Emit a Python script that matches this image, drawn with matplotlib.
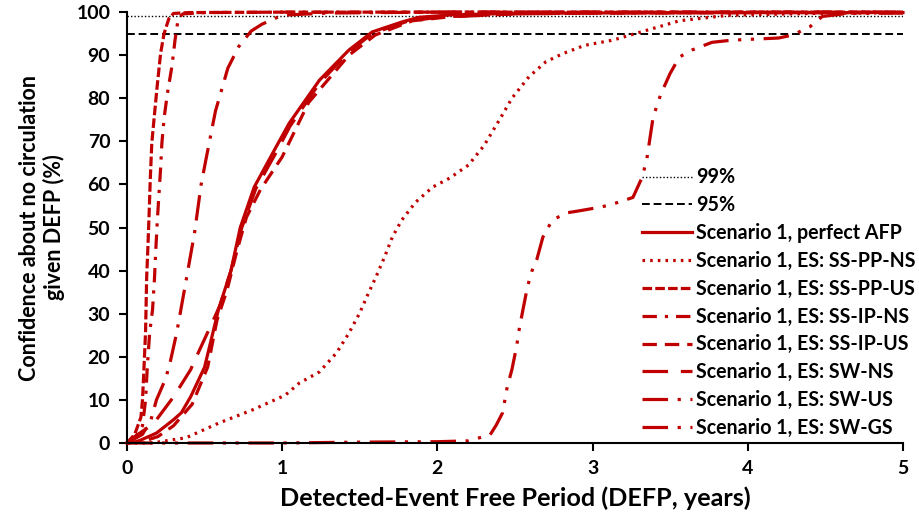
import matplotlib
matplotlib.use("Agg")
import matplotlib.pyplot as plt

# curves (x in years, y in %)
afp_x = [0, 0.05, 0.09, 0.19, 0.3, 0.35, 0.41, 0.5, 0.59, 0.67, 0.73, 0.82, 0.95, 1.045,
         1.24, 1.43, 1.58, 1.77, 1.88, 2.1, 2.5, 3, 4, 5]
afp_y = [0, 0.2, 0.7, 2.3, 5.4, 7, 10.7, 17.6, 31, 40, 50, 59.4, 68, 74.2,
         84.2, 91.2, 95.4, 97.7, 98.8, 99.4, 99.7, 99.8, 99.9, 99.9]

pp_ns_x = [0, 0.16, 0.38, 0.59, 0.81, 1.02, 1.11, 1.24, 1.35, 1.43, 1.5, 1.55, 1.61, 1.66,
           1.71, 1.77, 1.86, 1.97, 2.08, 2.2, 2.3, 2.4, 2.48, 2.59, 2.7, 2.81, 2.95, 3.13,
           3.35, 3.56, 3.88, 4.42, 5]
pp_ns_y = [0, 0, 1.2, 4.6, 7.7, 11.1, 13.9, 16.5, 20.9, 25.5, 30.2, 34.3, 39, 43.2,
           47.8, 51.7, 55.9, 59.4, 61.5, 64.5, 69, 75, 80, 85, 88.5, 90.4, 92.3, 93.5,
           95.8, 98, 99.3, 99.7, 99.9]

pp_us_x = [0, 0.05, 0.09, 0.1, 0.11, 0.12, 0.127, 0.135, 0.142, 0.15, 0.16, 0.174, 0.194,
           0.217, 0.239, 0.27, 0.3, 0.4, 1, 5]
pp_us_y = [0, 2, 6, 10, 17.6, 26, 38.5, 45.5, 52.4, 61, 69.6, 75, 82.6,
           90.5, 95, 98.5, 99.7, 99.9, 100, 100]

ip_ns_x = [0, 0.06, 0.1, 0.12, 0.131, 0.146, 0.165, 0.177, 0.186, 0.197, 0.216, 0.225,
           0.24, 0.26, 0.29, 0.31, 0.33, 0.36, 0.5, 1, 5]
ip_ns_y = [0, 1.5, 4, 10, 17.6, 25.5, 31, 38, 45, 52.5, 63.3, 69.6,
           75.6, 81, 87.5, 93.6, 98.5, 99.6, 99.9, 100, 100]

ip_us_x = [0, 0.1, 0.2, 0.3, 0.42, 0.52, 0.58, 0.645, 0.71, 0.77, 0.86, 1.0, 1.17, 1.43,
           1.6, 1.84, 2.1, 2.5, 3, 4, 5]
ip_us_y = [0, 0.3, 1.5, 4, 9, 17.6, 28.5, 35.5, 44.8, 52.4, 58.8, 66.4, 79, 90,
           94.7, 98, 99, 99.6, 99.8, 99.9, 99.9]

sw_ns_x = [0, 0.05, 0.14, 0.19, 0.3, 0.41, 0.46, 0.55, 0.6, 0.67, 0.74, 0.83, 0.97, 1.05,
           1.24, 1.43, 1.58, 1.8, 2.0, 2.5, 3, 4, 5]
sw_ns_y = [0, 1.5, 3.7, 5.4, 10.7, 17, 21, 28, 32, 40, 50, 59, 68, 73.5,
           83.5, 90.8, 95, 97.8, 98.8, 99.6, 99.8, 99.9, 99.9]

sw_us_x = [0, 0.1, 0.155, 0.19, 0.25, 0.28, 0.32, 0.37, 0.435, 0.478, 0.51, 0.57, 0.65,
           0.72, 0.8, 0.87, 1.0, 1.3, 2, 5]
sw_us_y = [0, 2, 5.4, 10, 15, 19, 25.5, 35.5, 48.7, 60, 66, 77, 87,
           92, 95.6, 97.2, 99.3, 99.8, 100, 100]

sw_gs_x = [0, 0.3, 1.0, 1.5, 2.0, 2.2, 2.34, 2.38, 2.42, 2.45, 2.48, 2.51, 2.53, 2.56,
           2.58, 2.61, 2.64, 2.68, 2.74, 2.83, 2.9, 3.06, 3.17, 3.26, 3.32, 3.35, 3.39,
           3.44, 3.5, 3.56, 3.64, 3.77, 3.9, 4.2, 4.29, 4.4, 4.48, 4.64, 5]
sw_gs_y = [0, 0, 0, 0.2, 0.3, 0.5, 1.9, 4.2, 7, 13, 17, 22.3, 27, 32.5,
           36.2, 40, 42.5, 47.8, 51.7, 53.4, 53.8, 54.8, 55.9, 57, 61.7, 66, 75.6,
           81, 85.8, 89.6, 91.2, 93, 93.5, 94, 94.7, 96.6, 99, 99.7, 99.8]

RED = "#C00000"
FONT = "Lato"

plt.rcParams["font.family"] = [FONT, "DejaVu Sans"]

fig = plt.figure(figsize=(9.2, 5.28), dpi=100)
ax = fig.add_axes([0.138, 0.161, 0.8435, 0.816])

ax.plot([0, 5], [99, 99], color="black", lw=1.0, ls=(0, (1, 1.5)), label="99%")
ax.plot([0, 5], [95, 95], color="black", lw=1.4, ls=(0, (4, 2)), label="95%")

lw = 2.3
series = [
    (afp_x, afp_y, "-", "Scenario 1, perfect AFP"),
    (pp_ns_x, pp_ns_y, (0, (0.8, 1.6)), "Scenario 1, ES: SS-PP-NS"),
    (pp_us_x, pp_us_y, (0, (3, 1)), "Scenario 1, ES: SS-PP-US"),
    (ip_ns_x, ip_ns_y, (0, (4.5, 2.5, 1, 2.5)), "Scenario 1, ES: SS-IP-NS"),
    (ip_us_x, ip_us_y, (0, (4.5, 2.5)), "Scenario 1, ES: SS-IP-US"),
    (sw_ns_x, sw_ns_y, (0, (8, 4)), "Scenario 1, ES: SW-NS"),
    (sw_us_x, sw_us_y, (0, (8, 3, 1, 3)), "Scenario 1, ES: SW-US"),
    (sw_gs_x, sw_gs_y, (0, (8, 3, 1, 3, 1, 3)), "Scenario 1, ES: SW-GS"),
]
for xs, ys, style, name in series:
    ax.plot(xs, ys, color=RED, lw=lw, ls=style, label=name, clip_on=False)

ax.set_xlim(0, 5)
ax.set_ylim(0, 100)
ax.set_xticks(range(0, 6))
ax.set_yticks(range(0, 101, 10))

for side in ["top", "right"]:
    ax.spines[side].set_visible(False)
for side in ["left", "bottom"]:
    ax.spines[side].set_linewidth(1.5)

ax.tick_params(direction="out", length=6, width=1.5, labelsize=14, pad=6)
for lab in ax.get_xticklabels() + ax.get_yticklabels():
    lab.set_fontweight("bold")

ax.set_xlabel("Detected-Event Free Period (DEFP, years)", fontsize=18.2, fontweight="bold", labelpad=7)
ax.set_ylabel("Confidence about no circulation\ngiven DEFP (%)", fontsize=15.5, fontweight="bold",
              labelpad=8, linespacing=1.2)

fig.legend(loc="upper left", bbox_to_anchor=(0.698, 0.683), frameon=False,
           handlelength=2.55, handletextpad=0.22, labelspacing=0.40,
           borderpad=0, borderaxespad=0, prop={"family": [FONT], "weight": "bold", "size": 14.1})

fig.savefig("out.png", dpi=100)
